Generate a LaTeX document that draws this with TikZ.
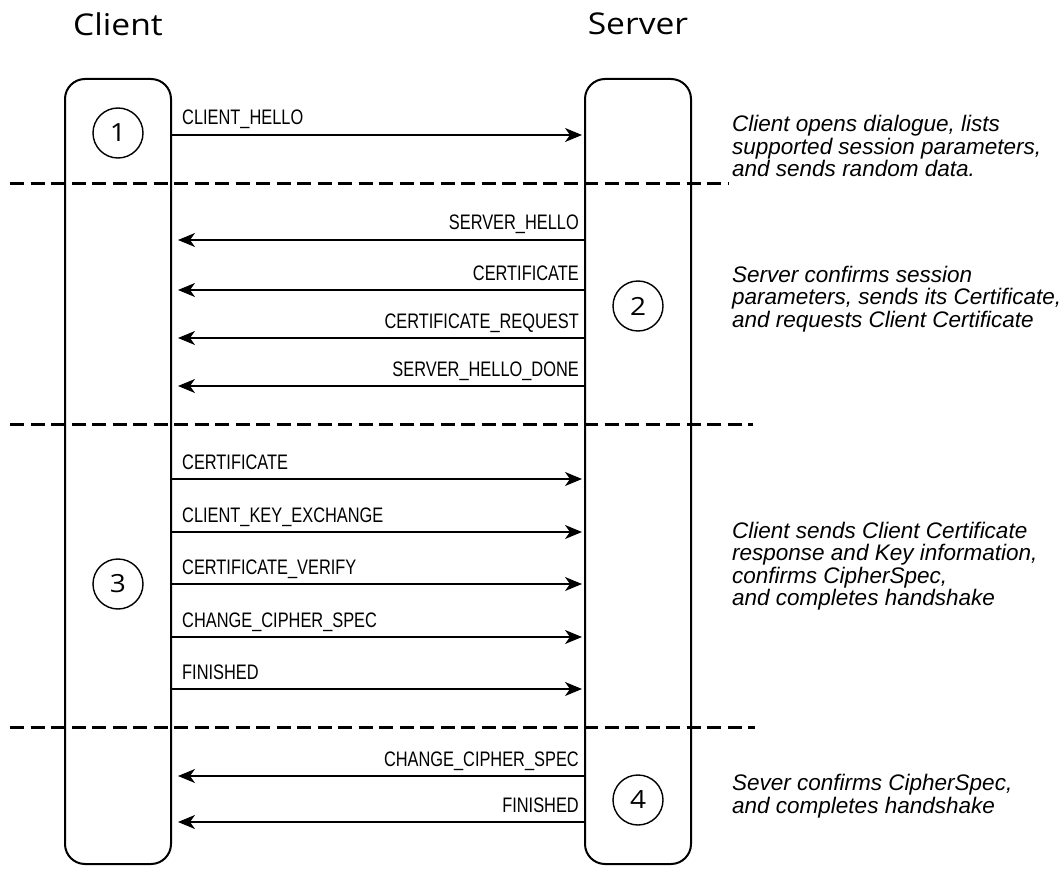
\documentclass[tikz,border=0pt]{standalone}
\usepackage{fontspec}
\usetikzlibrary{arrows.meta}
\newfontfamily\msgfont{Liberation Sans}[FakeStretch=0.78]
\newfontfamily\notefont{Liberation Sans}
\newfontfamily\headfont{Open Sans}[FakeStretch=1.12]
\begin{document}
\begin{tikzpicture}[x=1pt,y=-1pt,
  lane/.style={draw,line width=2pt,rounded corners=20pt,minimum width=106pt,minimum height=785pt,inner sep=0pt},
  stage/.style={draw,circle,line width=1.4pt,minimum size=50pt,inner sep=0pt,font=\headfont\fontsize{25}{25}\selectfont},
  party/.style={font=\headfont\fontsize{30}{30}\selectfont},
  msg/.style={line width=1.4pt,-{Stealth[length=17pt,width=14pt,inset=5pt]}},
  lbl/.style={inner sep=0pt,font=\msgfont\fontsize{21}{21}\selectfont},
  note/.style={anchor=west,align=left,inner sep=0pt,font=\notefont\itshape\fontsize{22.5}{22.5}\selectfont},
  phase/.style={line width=3pt,dash pattern=on 14pt off 6.5pt}]
\useasboundingbox (0,0) rectangle (1061,869);
\node[party] (clientname) at (118,24) {Client};
\node[party] (servername) at (638,24) {Server};
\node[lane] (client) at (118,471.5) {};
\node[lane] (server) at (638,471.5) {};
\node[stage] (s1) at (118,133) {1};
\node[stage] (s2) at (638,306) {2};
\node[stage] (s3) at (118,584) {3};
\node[stage] (s4) at (638,800) {4};
% rows of the messages
\coordinate (r1) at (0,135);
\coordinate (r2) at (0,240);
\coordinate (r3) at (0,290);
\coordinate (r4) at (0,338);
\coordinate (r5) at (0,386);
\coordinate (r6) at (0,479);
\coordinate (r7) at (0,532);
\coordinate (r8) at (0,584);
\coordinate (r9) at (0,637);
\coordinate (r10) at (0,689);
\coordinate (r11) at (0,776);
\coordinate (r12) at (0,822);
% client to server
\draw[msg,shorten >=2pt] (client.east |- r1) -- (server.west |- r1);
\draw[msg,shorten >=2pt] (client.east |- r6) -- (server.west |- r6);
\draw[msg,shorten >=2pt] (client.east |- r7) -- (server.west |- r7);
\draw[msg,shorten >=2pt] (client.east |- r8) -- (server.west |- r8);
\draw[msg,shorten >=2pt] (client.east |- r9) -- (server.west |- r9);
\draw[msg,shorten >=2pt] (client.east |- r10) -- (server.west |- r10);
\node[lbl,anchor=base west] (m1) at (182,125) {CLIENT\_HELLO};
\node[lbl,anchor=base west] (m6) at (182,469) {CERTIFICATE};
\node[lbl,anchor=base west] (m7) at (182,522) {CLIENT\_KEY\_EXCHANGE};
\node[lbl,anchor=base west] (m8) at (182,574) {CERTIFICATE\_VERIFY};
\node[lbl,anchor=base west] (m9) at (182,627) {CHANGE\_CIPHER\_SPEC};
\node[lbl,anchor=base west] (m10) at (182,679) {FINISHED};
% server to client
\draw[msg,shorten >=6pt] (server.west |- r2) -- (client.east |- r2);
\draw[msg,shorten >=6pt] (server.west |- r3) -- (client.east |- r3);
\draw[msg,shorten >=6pt] (server.west |- r4) -- (client.east |- r4);
\draw[msg,shorten >=6pt] (server.west |- r5) -- (client.east |- r5);
\draw[msg,shorten >=6pt] (server.west |- r11) -- (client.east |- r11);
\draw[msg,shorten >=6pt] (server.west |- r12) -- (client.east |- r12);
\node[lbl,anchor=base east] (m2) at (579,230) {SERVER\_HELLO};
\node[lbl,anchor=base east] (m3) at (579,280) {CERTIFICATE};
\node[lbl,anchor=base east] (m4) at (579,328) {CERTIFICATE\_REQUEST};
\node[lbl,anchor=base east] (m5) at (579,376) {SERVER\_HELLO\_DONE};
\node[lbl,anchor=base east] (m11) at (579,766) {CHANGE\_CIPHER\_SPEC};
\node[lbl,anchor=base east] (m12) at (579,812) {FINISHED};
% phase separators
\coordinate (d1a) at (10,184);
\coordinate (d1b) at (728,184);
\coordinate (d2a) at (10,424);
\coordinate (d2b) at (753,424);
\coordinate (d3a) at (10,727);
\coordinate (d3b) at (755,727);
\draw[phase] (d1a) -- (d1b);
\draw[phase] (d2a) -- (d2b);
\draw[phase] (d3a) -- (d3b);
% explanations
\node[note] (n1) at (732,146) {Client opens dialogue, lists\\supported session parameters,\\and sends random data.};
\node[note] (n2) at (732,299) {Server confirms session\\parameters, sends its Certificate,\\and requests Client Certificate};
\node[note] (n3) at (732,566) {Client sends Client Certificate\\response and Key information,\\confirms CipherSpec,\\and completes handshake};
\node[note] (n4) at (732,796) {Sever confirms CipherSpec,\\and completes handshake};
\end{tikzpicture}
\end{document}
